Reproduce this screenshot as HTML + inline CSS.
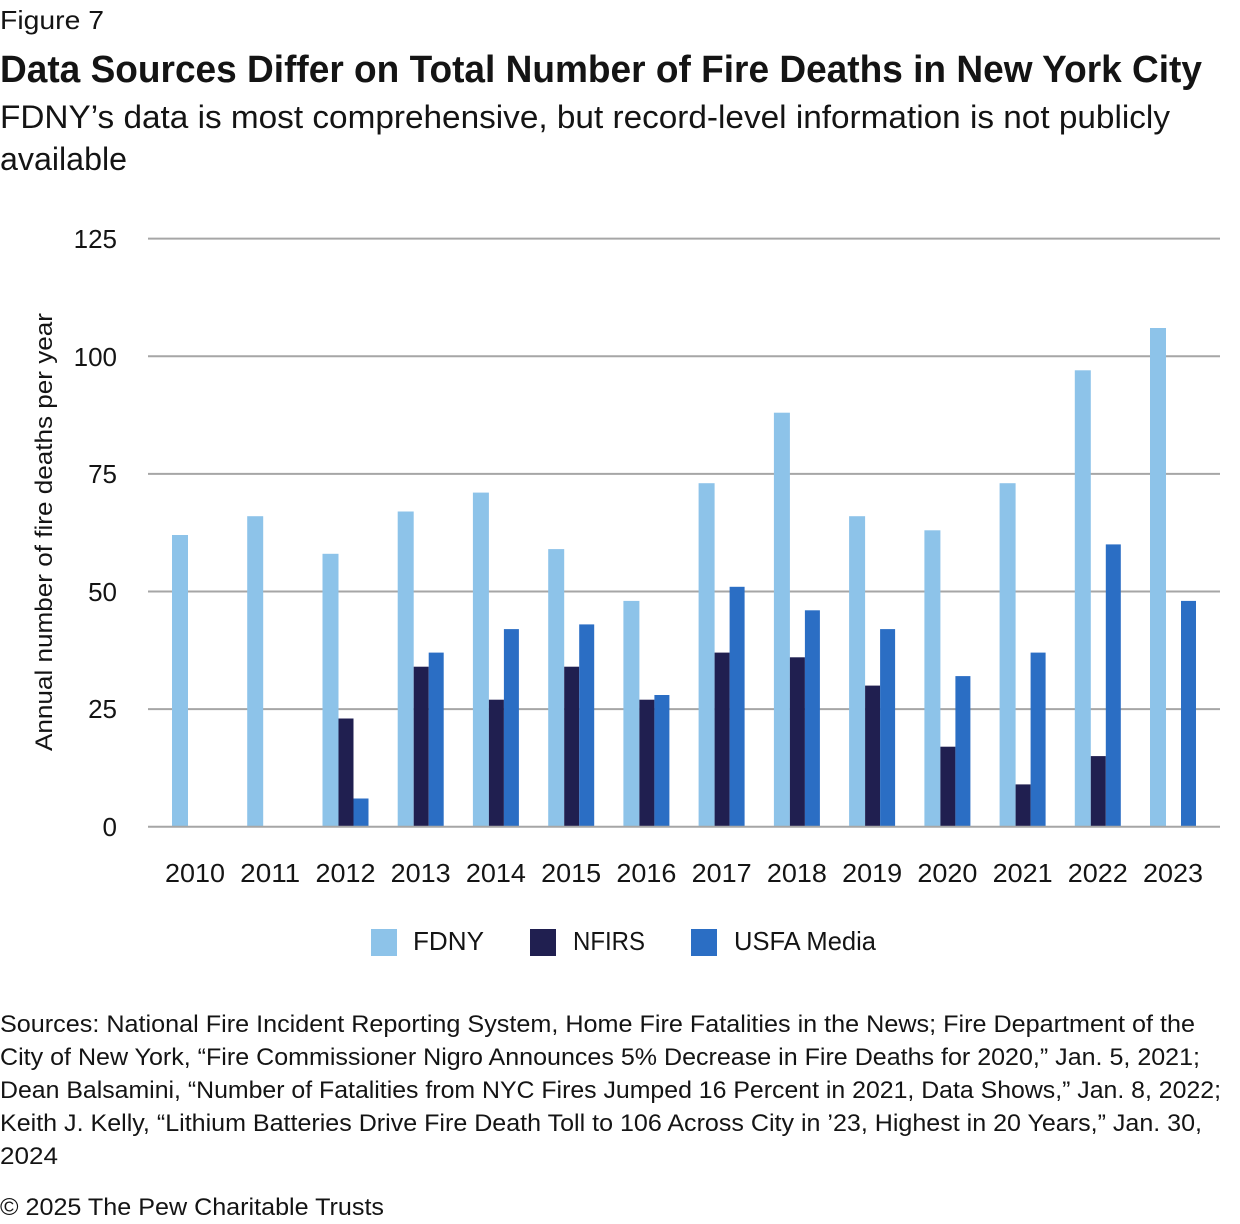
<!DOCTYPE html>
<html>
<head>
<meta charset="utf-8">
<style>
  html, body { margin: 0; padding: 0; background: #ffffff; }
  svg { display: block; }
  text { font-family: "Liberation Sans", "DejaVu Sans", sans-serif; fill: #141414; }
</style>
</head>
<body>
<svg width="1240" height="1224" viewBox="0 0 1240 1224" xmlns="http://www.w3.org/2000/svg">
  <rect x="0" y="0" width="1240" height="1224" fill="#ffffff"/>

  <!-- Header -->
  <text x="0" y="29" font-size="26" textLength="104" lengthAdjust="spacingAndGlyphs">Figure 7</text>
  <text x="0" y="82" font-size="38" font-weight="bold" fill="#000" textLength="1202" lengthAdjust="spacingAndGlyphs">Data Sources Differ on Total Number of Fire Deaths in New York City</text>
  <text x="0" y="128" font-size="32" textLength="1170" lengthAdjust="spacingAndGlyphs">FDNY’s data is most comprehensive, but record-level information is not publicly</text>
  <text x="0" y="170" font-size="32" textLength="127" lengthAdjust="spacingAndGlyphs">available</text>

  <!-- Gridlines -->
  <g stroke="#a6a6a6" stroke-width="2">
    <line x1="148" y1="238.6" x2="1220" y2="238.6"/>
    <line x1="148" y1="356.2" x2="1220" y2="356.2"/>
    <line x1="148" y1="473.9" x2="1220" y2="473.9"/>
    <line x1="148" y1="591.5" x2="1220" y2="591.5"/>
    <line x1="148" y1="709.1" x2="1220" y2="709.1"/>
  </g>

  <!-- Y tick labels -->
  <g font-size="26" text-anchor="end">
    <text x="117" y="248">125</text>
    <text x="117" y="366">100</text>
    <text x="117" y="483">75</text>
    <text x="117" y="601">50</text>
    <text x="117" y="718">25</text>
    <text x="117" y="836">0</text>
  </g>

  <!-- Y axis title -->
  <text transform="translate(52,532) rotate(-90)" x="0" y="0" font-size="24" text-anchor="middle" textLength="438" lengthAdjust="spacingAndGlyphs">Annual number of fire deaths per year</text>

  <!-- Bars -->
  <g>
    <!-- 2010 x=172 -->
    <rect x="172" y="535.0" width="16" height="291.7" fill="#8dc3e9"/>
    <!-- 2011 x=247.2 -->
    <rect x="247.2" y="516.2" width="16" height="310.5" fill="#8dc3e9"/>
    <!-- 2012 x=322.5 -->
    <rect x="322.5" y="553.8" width="16" height="272.9" fill="#8dc3e9"/>
    <rect x="338.5" y="718.5" width="15" height="108.2" fill="#201f50"/>
    <rect x="353.5" y="798.5" width="15" height="28.2" fill="#2b6ec4"/>
    <!-- 2013 x=397.7 -->
    <rect x="397.7" y="511.5" width="16" height="315.2" fill="#8dc3e9"/>
    <rect x="413.7" y="666.7" width="15" height="160.0" fill="#201f50"/>
    <rect x="428.7" y="652.6" width="15" height="174.1" fill="#2b6ec4"/>
    <!-- 2014 x=472.9 -->
    <rect x="472.9" y="492.6" width="16" height="334.1" fill="#8dc3e9"/>
    <rect x="488.9" y="699.7" width="15" height="127.0" fill="#201f50"/>
    <rect x="503.9" y="629.1" width="15" height="197.6" fill="#2b6ec4"/>
    <!-- 2015 x=548.2 -->
    <rect x="548.2" y="549.1" width="16" height="277.6" fill="#8dc3e9"/>
    <rect x="564.2" y="666.7" width="15" height="160.0" fill="#201f50"/>
    <rect x="579.2" y="624.4" width="15" height="202.3" fill="#2b6ec4"/>
    <!-- 2016 x=623.4 -->
    <rect x="623.4" y="600.9" width="16" height="225.8" fill="#8dc3e9"/>
    <rect x="639.4" y="699.7" width="15" height="127.0" fill="#201f50"/>
    <rect x="654.4" y="695.0" width="15" height="131.7" fill="#2b6ec4"/>
    <!-- 2017 x=698.6 -->
    <rect x="698.6" y="483.2" width="16" height="343.5" fill="#8dc3e9"/>
    <rect x="714.6" y="652.6" width="15" height="174.1" fill="#201f50"/>
    <rect x="729.6" y="586.8" width="15" height="239.9" fill="#2b6ec4"/>
    <!-- 2018 x=773.9 -->
    <rect x="773.9" y="412.7" width="16" height="414.0" fill="#8dc3e9"/>
    <rect x="789.9" y="657.3" width="15" height="169.4" fill="#201f50"/>
    <rect x="804.9" y="610.3" width="15" height="216.4" fill="#2b6ec4"/>
    <!-- 2019 x=849.1 -->
    <rect x="849.1" y="516.2" width="16" height="310.5" fill="#8dc3e9"/>
    <rect x="865.1" y="685.6" width="15" height="141.1" fill="#201f50"/>
    <rect x="880.1" y="629.1" width="15" height="197.6" fill="#2b6ec4"/>
    <!-- 2020 x=924.4 -->
    <rect x="924.4" y="530.3" width="16" height="296.4" fill="#8dc3e9"/>
    <rect x="940.4" y="746.7" width="15" height="80.0" fill="#201f50"/>
    <rect x="955.4" y="676.1" width="15" height="150.6" fill="#2b6ec4"/>
    <!-- 2021 x=999.6 -->
    <rect x="999.6" y="483.2" width="16" height="343.5" fill="#8dc3e9"/>
    <rect x="1015.6" y="784.4" width="15" height="42.3" fill="#201f50"/>
    <rect x="1030.6" y="652.6" width="15" height="174.1" fill="#2b6ec4"/>
    <!-- 2022 x=1074.8 -->
    <rect x="1074.8" y="370.3" width="16" height="456.4" fill="#8dc3e9"/>
    <rect x="1090.8" y="756.1" width="15" height="70.6" fill="#201f50"/>
    <rect x="1105.8" y="544.4" width="15" height="282.3" fill="#2b6ec4"/>
    <!-- 2023 x=1150 -->
    <rect x="1150" y="328.0" width="16" height="498.7" fill="#8dc3e9"/>
    <rect x="1181" y="600.9" width="15" height="225.8" fill="#2b6ec4"/>
  </g>

  <!-- Baseline -->
  <line x1="148" y1="826.7" x2="1220" y2="826.7" stroke="#a6a6a6" stroke-width="2"/>

  <!-- X labels -->
  <g font-size="26" text-anchor="middle">
    <text x="195.0" y="882" textLength="60" lengthAdjust="spacingAndGlyphs">2010</text>
    <text x="270.2" y="882" textLength="60" lengthAdjust="spacingAndGlyphs">2011</text>
    <text x="345.5" y="882" textLength="60" lengthAdjust="spacingAndGlyphs">2012</text>
    <text x="420.7" y="882" textLength="60" lengthAdjust="spacingAndGlyphs">2013</text>
    <text x="495.9" y="882" textLength="60" lengthAdjust="spacingAndGlyphs">2014</text>
    <text x="571.2" y="882" textLength="60" lengthAdjust="spacingAndGlyphs">2015</text>
    <text x="646.4" y="882" textLength="60" lengthAdjust="spacingAndGlyphs">2016</text>
    <text x="721.6" y="882" textLength="60" lengthAdjust="spacingAndGlyphs">2017</text>
    <text x="796.9" y="882" textLength="60" lengthAdjust="spacingAndGlyphs">2018</text>
    <text x="872.1" y="882" textLength="60" lengthAdjust="spacingAndGlyphs">2019</text>
    <text x="947.4" y="882" textLength="60" lengthAdjust="spacingAndGlyphs">2020</text>
    <text x="1022.6" y="882" textLength="60" lengthAdjust="spacingAndGlyphs">2021</text>
    <text x="1097.8" y="882" textLength="60" lengthAdjust="spacingAndGlyphs">2022</text>
    <text x="1173.0" y="882" textLength="60" lengthAdjust="spacingAndGlyphs">2023</text>
  </g>

  <!-- Legend -->
  <rect x="371" y="929" width="26" height="27" fill="#8dc3e9"/>
  <text x="413" y="950" font-size="26" textLength="71" lengthAdjust="spacingAndGlyphs">FDNY</text>
  <rect x="530" y="929" width="26" height="27" fill="#201f50"/>
  <text x="573" y="950" font-size="26" textLength="72" lengthAdjust="spacingAndGlyphs">NFIRS</text>
  <rect x="691" y="929" width="26" height="27" fill="#2b6ec4"/>
  <text x="734" y="950" font-size="26" textLength="142" lengthAdjust="spacingAndGlyphs">USFA Media</text>

  <!-- Sources -->
  <g font-size="24">
    <text x="0" y="1032" textLength="1195" lengthAdjust="spacingAndGlyphs">Sources: National Fire Incident Reporting System, Home Fire Fatalities in the News; Fire Department of the</text>
    <text x="0" y="1065" textLength="1200" lengthAdjust="spacingAndGlyphs">City of New York, “Fire Commissioner Nigro Announces 5% Decrease in Fire Deaths for 2020,” Jan. 5, 2021;</text>
    <text x="0" y="1098" textLength="1221" lengthAdjust="spacingAndGlyphs">Dean Balsamini, “Number of Fatalities from NYC Fires Jumped 16 Percent in 2021, Data Shows,” Jan. 8, 2022;</text>
    <text x="0" y="1131" textLength="1202" lengthAdjust="spacingAndGlyphs">Keith J. Kelly, “Lithium Batteries Drive Fire Death Toll to 106 Across City in ’23, Highest in 20 Years,” Jan. 30,</text>
    <text x="0" y="1164" textLength="58" lengthAdjust="spacingAndGlyphs">2024</text>
    <text x="0" y="1215" textLength="384" lengthAdjust="spacingAndGlyphs">© 2025 The Pew Charitable Trusts</text>
  </g>
</svg>
</body>
</html>
